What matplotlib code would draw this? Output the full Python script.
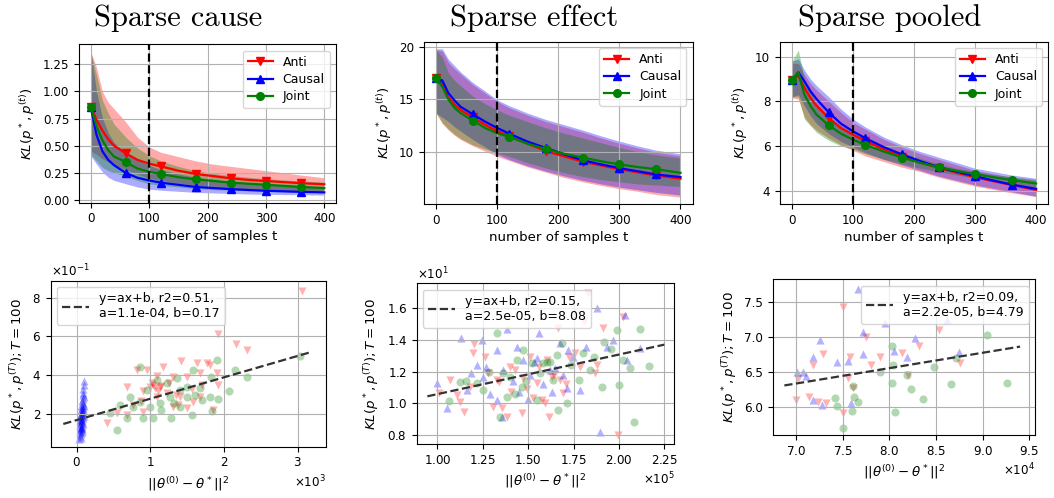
import numpy as np
import matplotlib
matplotlib.use("Agg")
import matplotlib.pyplot as plt
from matplotlib import ticker

W, H = 1054, 498

# ---------------- top row data ----------------
T = [0, 10, 20, 30, 40, 60, 80, 100, 120, 150, 180, 210, 240, 270, 300, 330, 360, 400]
MARK_T = [0, 60, 120, 180, 240, 300, 360]

cause_anti = [0.86, 0.74, 0.64, 0.56, 0.50, 0.43, 0.37, 0.335, 0.31, 0.27, 0.24, 0.22, 0.20, 0.185, 0.175, 0.165, 0.155, 0.145]
cause_anti_hi = [1.37, 1.22, 1.00, 0.90, 0.84, 0.72, 0.58, 0.49, 0.44, 0.40, 0.36, 0.33, 0.31, 0.29, 0.27, 0.25, 0.23, 0.205]
cause_anti_lo = [0.45, 0.42, 0.38, 0.35, 0.32, 0.28, 0.24, 0.20, 0.18, 0.155, 0.135, 0.12, 0.11, 0.10, 0.095, 0.09, 0.085, 0.08]
cause_causal = [0.86, 0.60, 0.45, 0.37, 0.32, 0.25, 0.205, 0.18, 0.16, 0.14, 0.12, 0.11, 0.10, 0.092, 0.085, 0.08, 0.075, 0.07]
cause_causal_hi = [1.37, 1.00, 0.76, 0.62, 0.53, 0.43, 0.37, 0.32, 0.28, 0.24, 0.21, 0.19, 0.17, 0.16, 0.15, 0.14, 0.13, 0.12]
cause_causal_lo = [0.41, 0.33, 0.26, 0.21, 0.18, 0.15, 0.12, 0.10, 0.09, 0.08, 0.07, 0.065, 0.06, 0.055, 0.052, 0.05, 0.048, 0.045]
cause_joint = [0.86, 0.68, 0.55, 0.46, 0.40, 0.35, 0.29, 0.26, 0.24, 0.21, 0.19, 0.175, 0.16, 0.15, 0.14, 0.13, 0.12, 0.11]
cause_joint_hi = [1.37, 1.15, 0.92, 0.80, 0.70, 0.58, 0.48, 0.41, 0.36, 0.31, 0.27, 0.245, 0.225, 0.21, 0.195, 0.185, 0.175, 0.165]
cause_joint_lo = [0.42, 0.36, 0.30, 0.27, 0.25, 0.22, 0.18, 0.15, 0.135, 0.12, 0.105, 0.095, 0.09, 0.085, 0.08, 0.075, 0.072, 0.07]

effect_anti = [17.0, 16.5, 15.2, 14.5, 14.0, 13.3, 12.6, 12.0, 11.5, 10.8, 10.1, 9.6, 9.1, 8.75, 8.4, 8.1, 7.8, 7.5]
effect_anti_hi = [19.7, 19.6, 18.5, 17.9, 17.4, 16.4, 15.6, 14.8, 14.2, 13.5, 12.9, 12.4, 11.9, 11.35, 10.85, 10.4, 10.0, 9.65]
effect_anti_lo = [13.7, 12.7, 12.1, 11.6, 11.2, 10.6, 10.1, 9.6, 9.2, 8.6, 8.1, 7.6, 7.2, 6.85, 6.55, 6.3, 6.0, 5.75]
effect_causal = [17.0, 16.8, 15.6, 14.9, 14.3, 13.6, 12.9, 12.3, 11.75, 11.0, 10.4, 9.8, 9.25, 8.85, 8.5, 8.2, 7.9, 7.65]
effect_causal_hi = [19.8, 19.8, 18.8, 18.2, 17.6, 16.6, 15.8, 14.95, 14.4, 13.7, 13.1, 12.6, 12.1, 11.55, 11.05, 10.6, 10.2, 9.85]
effect_causal_lo = [13.7, 13.3, 12.9, 12.4, 12.0, 11.2, 10.5, 9.8, 9.3, 8.7, 8.2, 7.75, 7.35, 7.0, 6.7, 6.45, 6.2, 5.95]
effect_joint = [17.0, 16.2, 15.0, 14.2, 13.7, 13.0, 12.3, 11.8, 11.45, 10.8, 10.3, 9.85, 9.5, 9.15, 8.85, 8.6, 8.4, 8.05]
effect_joint_hi = [19.7, 19.0, 17.5, 16.8, 16.3, 15.3, 14.6, 14.0, 13.5, 12.9, 12.3, 11.8, 11.35, 10.9, 10.45, 10.05, 9.75, 9.45]
effect_joint_lo = [13.7, 12.8, 12.2, 11.7, 11.3, 10.7, 10.3, 9.95, 9.6, 9.0, 8.5, 8.05, 7.7, 7.4, 7.2, 7.0, 6.9, 6.75]

pooled_anti = [8.95, 9.15, 8.6, 8.15, 7.8, 7.25, 6.8, 6.5, 6.22, 5.85, 5.52, 5.25, 5.02, 4.8, 4.6, 4.42, 4.25, 4.03]
pooled_anti_hi = [9.7, 9.7, 9.2, 8.8, 8.5, 8.0, 7.5, 7.05, 6.75, 6.3, 5.95, 5.65, 5.4, 5.15, 4.9, 4.75, 4.6, 4.45]
pooled_anti_lo = [8.15, 8.1, 7.3, 6.95, 6.7, 6.35, 6.05, 5.8, 5.55, 5.3, 5.05, 4.85, 4.6, 4.4, 4.2, 4.05, 3.9, 3.73]
pooled_causal = [8.95, 9.3, 8.9, 8.45, 8.1, 7.5, 7.0, 6.65, 6.35, 5.95, 5.62, 5.32, 5.05, 4.85, 4.65, 4.45, 4.27, 4.08]
pooled_causal_hi = [9.8, 9.9, 9.4, 9.0, 8.7, 8.2, 7.65, 7.2, 6.85, 6.4, 6.05, 5.75, 5.5, 5.25, 5.0, 4.85, 4.7, 4.55]
pooled_causal_lo = [8.2, 8.3, 7.8, 7.35, 7.0, 6.55, 6.2, 5.95, 5.7, 5.4, 5.15, 4.9, 4.65, 4.45, 4.25, 4.1, 3.95, 3.75]
pooled_joint = [8.95, 9.3, 8.3, 7.8, 7.4, 6.92, 6.55, 6.28, 6.05, 5.75, 5.48, 5.25, 5.05, 4.88, 4.74, 4.6, 4.47, 4.32]
pooled_joint_hi = [9.8, 10.3, 9.0, 8.4, 7.9, 7.3, 6.9, 6.6, 6.35, 6.0, 5.7, 5.45, 5.2, 5.0, 4.85, 4.72, 4.62, 4.5]
pooled_joint_lo = [8.2, 8.2, 7.2, 6.9, 6.6, 6.25, 6.0, 5.85, 5.65, 5.4, 5.2, 5.0, 4.85, 4.7, 4.55, 4.4, 4.3, 4.15]

TITLES = ["Sparse cause", "Sparse effect", "Sparse pooled"]
SERIES = ["Anti", "Causal", "Joint"]

# ---------------- bottom row data ----------------
# Sparse cause
c_anti_x = [3054, 1923, 2163, 2317, 1412, 1176, 1765, 1629, 1810, 814, 950, 1086, 1312, 1493, 1674, 1900,
            1923, 1041, 995, 1131, 679, 905, 1086, 1222, 1403, 1584, 1312, 1493, 543, 407, 679, 1855, 1674,
            905, 1060, 1150, 1250, 1350, 1100, 1020, 760, 1560, 1700, 1380, 870]
c_anti_y = [0.836, 0.613, 0.562, 0.531, 0.474, 0.445, 0.462, 0.462, 0.454, 0.428, 0.428, 0.397, 0.394, 0.394,
            0.411, 0.411, 0.351, 0.351, 0.342, 0.339, 0.339, 0.317, 0.291, 0.308, 0.291, 0.265, 0.239, 0.231,
            0.205, 0.154, 0.197, 0.222, 0.291, 0.214, 0.335, 0.345, 0.36, 0.30, 0.32, 0.36, 0.25, 0.33, 0.35,
            0.25, 0.27]
c_causal_x = [35, 40, 42, 45, 48, 50, 52, 55, 57, 60, 62, 64, 66, 68, 70, 72, 74, 75, 78, 80, 82, 84, 86, 88,
              90, 92, 95, 98, 100, 44, 53, 59, 67, 73, 79, 85, 91, 96, 58, 71, 47, 63, 76, 83, 93]
c_causal_y = [0.075, 0.12, 0.09, 0.15, 0.11, 0.19, 0.13, 0.22, 0.16, 0.10, 0.18, 0.24, 0.14, 0.21, 0.17, 0.27,
              0.12, 0.20, 0.23, 0.15, 0.30, 0.18, 0.26, 0.21, 0.33, 0.25, 0.37, 0.29, 0.35, 0.17, 0.08, 0.13,
              0.19, 0.16, 0.28, 0.22, 0.31, 0.24, 0.20, 0.11, 0.14, 0.17, 0.13, 0.23, 0.19]
c_joint_x = [3032, 2308, 2149, 2072, 1910, 1923, 1810, 1697, 1819, 1575, 860, 1086, 1222, 1357, 1493, 1674, 1403,
             1267, 1131, 995, 860, 769, 588, 452, 543, 679, 905, 1041, 1276, 1403, 1561, 1833, 1493, 724, 950,
             1150, 1320, 1600]
c_joint_y = [0.50, 0.39, 0.428, 0.317, 0.479, 0.279, 0.291, 0.274, 0.394, 0.428, 0.442, 0.377, 0.359, 0.385,
             0.342, 0.334, 0.325, 0.291, 0.257, 0.239, 0.265, 0.239, 0.248, 0.205, 0.119, 0.179, 0.179, 0.179,
             0.179, 0.239, 0.197, 0.219, 0.291, 0.291, 0.325, 0.22, 0.26, 0.30]
c_fit = dict(a=1.1e-04, b=0.17, r2=0.51, x0=-182, x1=3190)

# Sparse effect
e_anti_x = [183150, 199670, 101100, 120190, 110650, 112480, 114870, 119820, 126250, 130840, 135430, 138180,
            134140, 146440, 140010, 151030, 154700, 157450, 161670, 152500, 160200, 166620, 167540, 172680,
            178550, 187730, 191400, 202410, 181000, 117990, 106970, 147360, 169380, 186810, 162950,
            128000, 143000, 149500, 156000, 159500, 164500, 171000, 176000, 140500, 133000]
e_anti_y = [16.95, 7.98, 10.63, 13.75, 10.53, 10.11, 9.43, 13.16, 12.95, 9.79, 9.68, 9.16, 11.37, 9.41, 12.32,
            12.95, 11.26, 10.21, 9.16, 10.32, 12.74, 14.74, 11.47, 12.95, 12.32, 12.42, 14.74, 15.47, 15.2,
            11.05, 11.47, 11.58, 10.63, 11.89, 11.68,
            11.9, 12.1, 10.9, 12.3, 10.0, 11.8, 11.2, 13.2, 10.7, 11.5]
e_causal_x = [100000, 105510, 112850, 124420, 121660, 116520, 125330, 128990, 132670, 135790, 138180, 147360,
              151030, 154700, 156170, 162950, 167540, 172130, 178550, 181860, 187730, 193230, 196900, 203520,
              189570, 204260, 211600, 143690, 136340, 162040, 171210, 132840,
              127000, 141500, 145000, 153000, 158000, 165000, 169000, 174500, 118500, 150000]
e_causal_y = [11.26, 9.68, 14.11, 14.0, 12.42, 10.84, 11.64, 10.59, 10.21, 9.16, 14.67, 12.74, 11.79, 12.84,
              14.42, 10.74, 13.79, 13.37, 10.84, 13.58, 16.0, 13.58, 14.0, 15.58, 8.21, 12.74, 13.47, 13.58,
              12.1, 12.1, 10.95, 13.37,
              12.3, 11.4, 10.7, 12.6, 11.2, 12.2, 11.8, 12.9, 11.9, 10.3]
e_joint_x = [106240, 115780, 125330, 132670, 134510, 140010, 143690, 147360, 151950, 154700, 158370, 162040,
             166620, 168460, 171210, 180400, 184070, 191780, 198750, 202410, 206080, 208280, 211600, 216740,
             199830, 190650, 177810, 165980, 156630, 146440, 138180, 121660, 112480,
             128500, 136000, 142500, 149000, 160500, 163500, 173500, 186000, 195500]
e_joint_y = [10.17, 11.43, 10.84, 14.42, 9.16, 11.68, 12.74, 13.37, 12.53, 10.21, 12.53, 12.63, 9.58, 13.79,
             10.0, 13.16, 12.1, 13.89, 14.63, 12.74, 12.21, 8.8, 14.67, 12.38, 11.16, 11.05, 11.47, 13.05,
             11.89, 11.05, 10.42, 11.26, 11.37,
             12.0, 11.9, 10.6, 11.4, 12.6, 11.5, 12.4, 12.9, 13.4]
e_fit = dict(a=2.5e-05, b=8.08, r2=0.15, x0=94500, x1=225000)

# Sparse pooled
p_anti_x = [75070, 70180, 70000, 71860, 72930, 71430, 72320, 73210, 75000, 75610, 75790, 76140, 77500, 78000,
            79000, 81320, 82040, 83210, 85320, 87570]
p_anti_y = [7.42, 6.39, 6.10, 6.60, 6.75, 6.14, 6.06, 6.05, 5.91, 6.41, 6.71, 6.26, 7.00, 6.60, 6.71, 6.76,
            6.45, 6.86, 7.10, 6.62]
p_causal_x = [76680, 70070, 70790, 71070, 71790, 72570, 74360, 75610, 77140, 77210, 79530, 80530, 81860, 82750,
              86140, 87500, 71790, 72750, 75900]
p_causal_y = [7.68, 6.50, 6.50, 6.44, 6.71, 6.95, 6.64, 6.65, 6.75, 7.07, 7.19, 6.79, 6.71, 6.98, 7.24, 6.78,
              6.10, 6.02, 6.05]
p_joint_x = [74180, 74430, 75000, 75960, 76070, 76210, 76680, 79000, 80250, 80250, 80360, 80610, 81930, 82290,
             83640, 84820, 86570, 87140, 90500, 92640]
p_joint_y = [6.13, 6.01, 5.70, 5.94, 6.30, 6.14, 6.06, 6.49, 6.34, 6.87, 6.60, 5.93, 6.45, 6.25, 6.11, 6.56,
             6.32, 6.69, 7.03, 6.34]
p_fit = dict(a=2.2e-05, b=4.79, r2=0.09, x0=68750, x1=94000)

# ---------------- styling ----------------
plt.rcParams["font.family"] = ["DejaVu Sans"]
plt.rcParams["mathtext.fontset"] = "dejavusans"
TICK_FS = 8.6
LABEL_FS = 9.6
LEG_FS = 9.0
COLORS = ["r", "b", "g"]
MARKERS = ["v", "^", "o"]

fig = plt.figure(figsize=(W / 100, H / 100), dpi=100)


def add_ax(left, right, top, bottom):
    return fig.add_axes([left / W, 1 - bottom / H, (right - left) / W, (bottom - top) / H])


top_boxes = [(79, 336, 44.3, 202.7), (424, 692.7, 41.7, 204), (780, 1048.3, 41.7, 204)]
top_ylims = [(-0.025, 1.435), (5.1, 20.47), (3.40, 10.67)]
title_x = [178, 534, 890]
top_data = [
    [(cause_anti, cause_anti_lo, cause_anti_hi), (cause_causal, cause_causal_lo, cause_causal_hi),
     (cause_joint, cause_joint_lo, cause_joint_hi)],
    [(effect_anti, effect_anti_lo, effect_anti_hi), (effect_causal, effect_causal_lo, effect_causal_hi),
     (effect_joint, effect_joint_lo, effect_joint_hi)],
    [(pooled_anti, pooled_anti_lo, pooled_anti_hi), (pooled_causal, pooled_causal_lo, pooled_causal_hi),
     (pooled_joint, pooled_joint_lo, pooled_joint_hi)],
]
mark_idx = [T.index(t) for t in MARK_T]

for i in range(3):
    ax = add_ax(*top_boxes[i])
    for (mean, lo, hi), col, mk, name in zip(top_data[i], COLORS, MARKERS, SERIES):
        ax.fill_between(T, lo, hi, color=col, alpha=0.33, linewidth=0)
        ax.plot(T, mean, color=col, lw=1.6, marker=mk, markersize=5.5, markevery=mark_idx, label=name)
    ax.axvline(100, color="k", ls="--", lw=1.6)
    ax.set_xlim(-20, 420)
    ax.set_ylim(*top_ylims[i])
    ax.set_xticks([0, 100, 200, 300, 400])
    ax.grid(True, color="#b0b0b0", lw=0.8)
    ax.tick_params(labelsize=TICK_FS)
    ax.set_xlabel("number of samples t", fontsize=LABEL_FS, labelpad=3)
    ax.set_ylabel(r"$KL(p^*,p^{(t)})$", fontsize=LABEL_FS)
    ax.legend(loc="upper right", fontsize=LEG_FS, handlelength=2.0, borderpad=0.4, labelspacing=0.35)
    fig.text(title_x[i] / W, 1 - 26 / H, TITLES[i], fontsize=22, family="cmr10",
             ha="center", va="baseline")

bot_boxes = [(50.7, 325.7, 280.7, 446.7), (416.7, 674.3, 283.3, 444), (772.7, 1035, 279.3, 435.3)]
bot_xlims = [(-353, 3380), (88620, 230500), (67500, 95600)]
bot_ylims = [(0.033, 0.887), (7.43, 17.58), (5.59, 7.82)]
bot_data = [
    [(c_anti_x, c_anti_y), (c_causal_x, c_causal_y), (c_joint_x, c_joint_y)],
    [(e_anti_x, e_anti_y), (e_causal_x, e_causal_y), (e_joint_x, e_joint_y)],
    [(p_anti_x, p_anti_y), (p_causal_x, p_causal_y), (p_joint_x, p_joint_y)],
]
fits = [c_fit, e_fit, p_fit]
leg_locs = ["upper left", "upper left", "upper right"]
y_sci = [True, True, False]

for i in range(3):
    ax = add_ax(*bot_boxes[i])
    for (xs, ys), col, mk in zip(bot_data[i], COLORS, MARKERS):
        ax.scatter(xs, ys, color=col, marker=mk, s=34, alpha=0.3, linewidths=0)
    f = fits[i]
    xl = np.array([f["x0"], f["x1"]])
    ax.plot(xl, f["a"] * xl + f["b"], color="#333333", ls="--", lw=1.6,
            label="y=ax+b, r2=%.2f,\na=%.1e, b=%.2f" % (f["r2"], f["a"], f["b"]))
    ax.set_xlim(*bot_xlims[i])
    ax.set_ylim(*bot_ylims[i])
    ax.grid(True, color="#b0b0b0", lw=0.8)
    ax.tick_params(labelsize=TICK_FS)
    fx = ticker.ScalarFormatter(useMathText=True)
    fx.set_powerlimits((0, 0))
    ax.xaxis.set_major_formatter(fx)
    if y_sci[i]:
        fy = ticker.ScalarFormatter(useMathText=True)
        fy.set_powerlimits((0, 0))
        ax.yaxis.set_major_formatter(fy)
    ax.xaxis.get_offset_text().set_fontsize(TICK_FS)
    ax.yaxis.get_offset_text().set_fontsize(TICK_FS)
    ax.set_xlabel(r"$||\theta^{(0)}-\theta^*||^2$", fontsize=LABEL_FS)
    ax.set_ylabel(r"$KL(p^*,p^{(T)}); T=100$", fontsize=LABEL_FS)
    ax.legend(loc=leg_locs[i], fontsize=LEG_FS, handlelength=2.2, borderpad=0.4)

fig.savefig("out.png", dpi=100)
